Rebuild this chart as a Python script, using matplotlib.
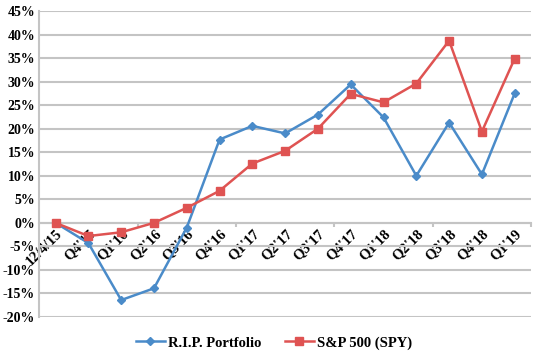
import matplotlib.pyplot as plt
from matplotlib.ticker import FixedLocator, FuncFormatter

labels = ["12/4/15", "Q4'15", "Q1'16", "Q2'16", "Q3'16", "Q4'16", "Q1'17", "Q2'17",
          "Q3'17", "Q4'17", "Q1'18", "Q2'18", "Q3'18", "Q4'18", "Q1'19"]
rip = [0, -4.3, -16.4, -13.9, -1.0, 17.7, 20.6, 19.0, 23.0, 29.4, 22.4, 10.0, 21.3, 10.3, 27.5]
spy = [0, -2.8, -2.0, 0, 3.2, 6.8, 12.6, 15.3, 20.0, 27.4, 25.6, 29.6, 38.7, 19.4, 34.9]

plt.rcParams['font.family'] = ['Liberation Serif', 'DejaVu Serif']
plt.rcParams['font.weight'] = 'bold'

fig = plt.figure(figsize=(5.37, 3.55), dpi=100)
ax = fig.add_axes([0.073, 0.107, 0.916, 0.862])

x = list(range(len(labels)))
ax.plot(x, rip, color='#4a8bc9', lw=1.8, marker='D', ms=4.5, label='R.I.P. Portfolio', zorder=3)
ax.plot(x, spy, color='#df5352', lw=1.8, marker='s', ms=6, label='S&P 500 (SPY)', zorder=3)

ax.set_xlim(-0.5, len(labels) - 0.5)
ax.set_ylim(-20, 45)
ax.set_yticks(range(-20, 46, 5))
ax.yaxis.set_major_formatter(FuncFormatter(lambda v, p: f'{int(v)}%'))
ax.grid(axis='y', color='#c4c4c4', lw=1.5)
ax.set_axisbelow(True)

for s in ['top', 'right']:
    ax.spines[s].set_visible(False)
ax.spines['left'].set_color('#c4c4c4')
ax.spines['left'].set_linewidth(1.5)
ax.spines['bottom'].set_position(('data', 0))
ax.spines['bottom'].set_color('#c4c4c4')
ax.spines['bottom'].set_linewidth(1.5)

ax.set_xticks(x)
ax.set_xticklabels(labels, rotation=45, ha='right', va='top', rotation_mode='anchor', fontsize=10.5)
ax.tick_params(axis='x', length=0, pad=3)
ax.xaxis.set_minor_locator(FixedLocator([2.5, 5.5, 8.5, 11.5, 14.5]))
ax.tick_params(axis='x', which='minor', length=3, color='#c4c4c4', width=1.5)
ax.tick_params(axis='y', length=0, labelsize=10, pad=3)

fig.legend(loc='center', bbox_to_anchor=(0.51, 0.034), ncol=2, frameon=False,
           fontsize=10.5, handlelength=2.0, handletextpad=0.2, columnspacing=1.6,
           borderpad=0)

fig.savefig('out.png', dpi=100)
